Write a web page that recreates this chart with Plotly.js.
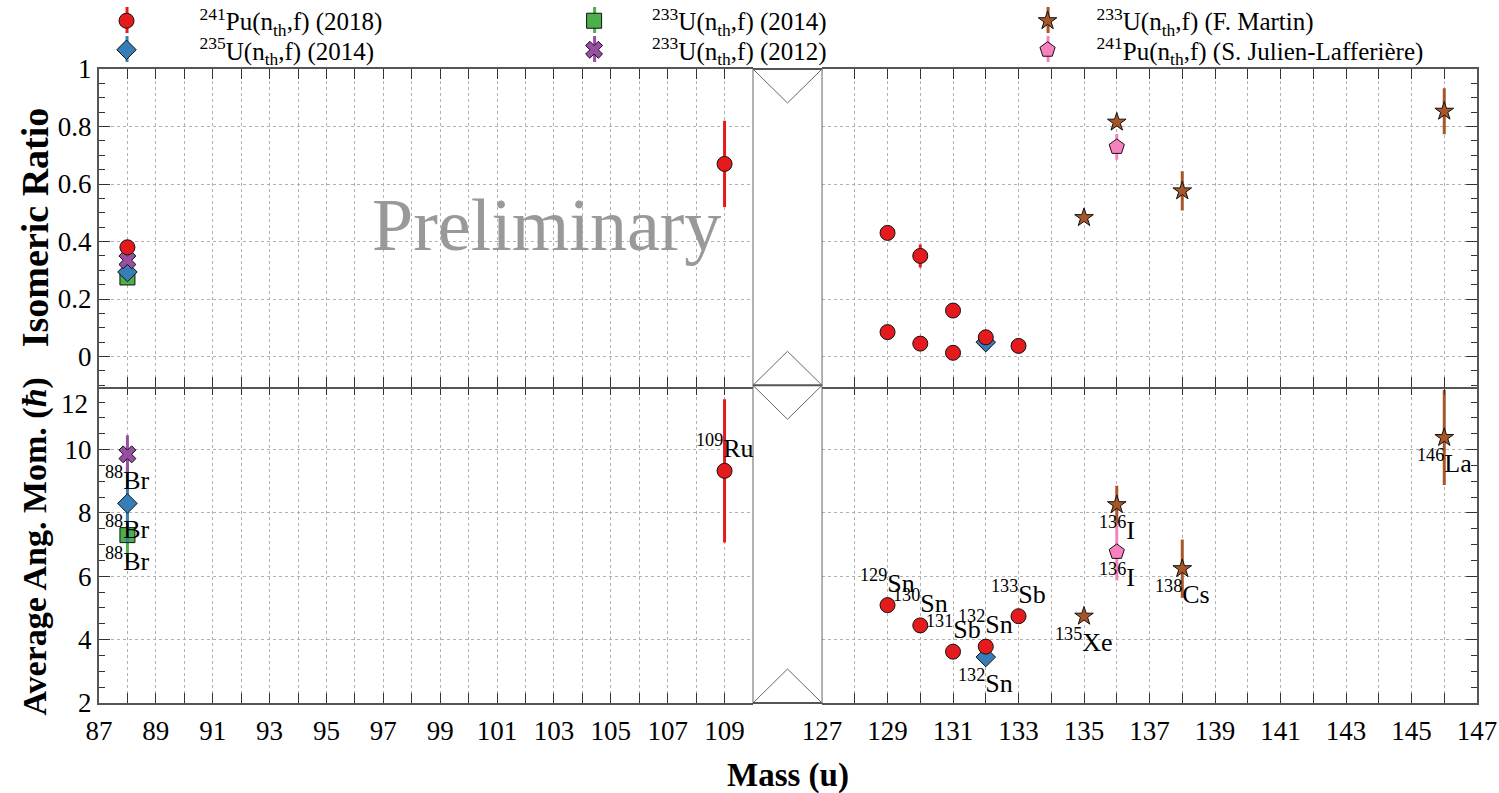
<!DOCTYPE html>
<html><head><meta charset="utf-8">
<script src="https://cdn.plot.ly/plotly-3.0.1.min.js"></script>
<style>html,body{margin:0;padding:0;background:#fff}#chart{width:1499px;height:793px}</style>
</head><body><div id="chart"></div>
<script>
// ---------------- DATA ----------------
const seriesNames = [
  '<sup>241</sup>Pu(n<sub>th</sub>,f) (2018)',
  '<sup>235</sup>U(n<sub>th</sub>,f) (2014)',
  '<sup>233</sup>U(n<sub>th</sub>,f) (2014)',
  '<sup>233</sup>U(n<sub>th</sub>,f) (2012)',
  '<sup>233</sup>U(n<sub>th</sub>,f) (F. Martin)',
  '<sup>241</sup>Pu(n<sub>th</sub>,f) (S. Julien-Lafferière)'
];

// Isomeric ratio (top panel)
const irMassPu241   = [88, 109, 129, 129, 130, 130, 131, 131, 132, 133];
const irValPu241    = [0.38, 0.67, 0.43, 0.085, 0.35, 0.045, 0.16, 0.013, 0.067, 0.037];
const irErrPu241    = [0.01, 0.15, 0.01, 0.01, 0.04, 0.01, 0.01, 0.01, 0.01, 0.01];
const irMassU235    = [88, 132];
const irValU235     = [0.294, 0.05];
const irErrU235     = [0.01, 0.01];
const irMassU233a   = [88];
const irValU233a    = [0.275];
const irErrU233a    = [0.01];
const irMassU233b   = [88];
const irValU233b    = [0.335];
const irErrU233b    = [0.01];
const irMassMartin  = [135, 136, 138, 146];
const irValMartin   = [0.483, 0.815, 0.576, 0.853];
const irErrMartin   = [0.005, 0.015, 0.068, 0.08];
const irMassJulien  = [136];
const irValJulien   = [0.729];
const irErrJulien   = [0.045];

// Average angular momentum (bottom panel)
const amMassPu241   = [109, 129, 130, 131, 132, 133];
const amValPu241    = [9.33, 5.09, 4.45, 3.62, 3.78, 4.74];
const amErrPu241    = [2.26, 0.1, 0.1, 0.1, 0.1, 0.1];
const amLblPu241    = ['<sup>109</sup>Ru', '<sup>129</sup>Sn', '<sup>130</sup>Sn', '<sup>131</sup>Sb', '<sup>132</sup>Sn', '<sup>133</sup>Sb'];
const amMassU235    = [88, 132];
const amValU235     = [8.3, 3.45];
const amErrU235     = [1.22, 0.1];
const amLblU235     = ['<sup>88</sup>Br', '<sup>132</sup>Sn'];
const amMassU233a   = [88];
const amValU233a    = [7.3];
const amErrU233a    = [0.85];
const amLblU233a    = ['<sup>88</sup>Br'];
const amMassU233b   = [88];
const amValU233b    = [9.85];
const amErrU233b    = [0.6];
const amLblU233b    = ['<sup>88</sup>Br'];
const amMassMartin  = [135, 136, 138, 146];
const amValMartin   = [4.74, 8.26, 6.24, 10.38];
const amErrMartin   = [0.05, 0.6, 0.92, 1.5];
const amLblMartin   = ['<sup>135</sup>Xe', '<sup>136</sup>I', '<sup>138</sup>Cs', '<sup>146</sup>La'];
const amMassJulien  = [136];
const amValJulien   = [6.77];
const amErrJulien   = [0.9];
const amLblJulien   = ['<sup>136</sup>I'];

const xTickLabelsLeft  = [87, 89, 91, 93, 95, 97, 99, 101, 103, 105, 107, 109];
const xTickLabelsRight = [127, 129, 131, 133, 135, 137, 139, 141, 143, 145, 147];

// ---------------- STYLE ----------------
const FONT = '"Liberation Serif", "Times New Roman", serif';
const W = 1499, H = 793, ML = 99, MR = 22, MT = 69, MB = 90;
const PW = W - ML - MR, PH = H - MT - MB;
const ROW1 = 1.112, ROW2 = 1.0662;
const series = [
  // drawing order: bottom to top
  {name: seriesNames[2], color:'#4daf4a', symbol:'square',   size:15, legend:'legend2', lx:0.3172, ly:ROW1, iw:106, ir:[irMassU233a, irValU233a, irErrU233a], am:[amMassU233a, amValU233a, amErrU233a, amLblU233a], lblShift:-24},
  {name: seriesNames[1], color:'#377eb8', symbol:'diamond',  size:15, legend:'legend4', lx:-0.0330, ly:ROW2, iw:136, ir:[irMassU235, irValU235, irErrU235],    am:[amMassU235, amValU235, amErrU235, amLblU235],     lblShift:-24},
  {name: seriesNames[3], color:'#984ea3', symbol:'x',        size:15, legend:'legend5', lx:0.3172, ly:ROW2, iw:106, ir:[irMassU233b, irValU233b, irErrU233b], am:[amMassU233b, amValU233b, amErrU233b, amLblU233b], lblShift:-24},
  {name: seriesNames[4], color:'#a65628', symbol:'star',     size:14, legend:'legend3', lx:0.6528, ly:ROW1, iw:88,  ir:[irMassMartin, irValMartin, irErrMartin], am:[amMassMartin, amValMartin, amErrMartin, amLblMartin], lblShift:-24},
  {name: seriesNames[5], color:'#f781bf', symbol:'pentagon', size:16, legend:'legend6', lx:0.6528, ly:ROW2, iw:88,  ir:[irMassJulien, irValJulien, irErrJulien], am:[amMassJulien, amValJulien, amErrJulien, amLblJulien], lblShift:-24},
  {name: seriesNames[0], color:'#e41a1c', symbol:'circle',   size:15, legend:'legend',  lx:-0.0330, ly:ROW1, iw:136, ir:[irMassPu241, irValPu241, irErrPu241], am:[amMassPu241, amValPu241, amErrPu241, amLblPu241], lblShift:24}
];

const LEFT = [87, 110], RIGHT = [127, 147];
const f1 = 0.4746, f2 = 0.5247, ym = 0.5011, ov = 2/PH;

const axesFor = {
  ir: [['x3','y'], ['x4','y3']],
  am: [['x','y2'], ['x2','y4']]
};

const traces = [];
const annotations = [];
const shapes = [];
const legends = {};
series.forEach(s => {
  let legendShown = false;
  legends[s.legend] = {orientation:'v', x:s.lx, y:s.ly, xanchor:'left', yanchor:'top', itemwidth:s.iw,
    font:{family:FONT, size:25, color:'#000'}, bgcolor:'rgba(0,0,0,0)', borderwidth:0};
  // error-bar stroke behind the legend symbol (as in the original legend)
  const lxc = s.lx + (s.iw/2 + 5.5)/PW, lyc = s.ly - 22/PH;
  shapes.push({type:'line', xref:'paper', yref:'paper', x0:lxc, x1:lxc, y0:lyc-13/PH, y1:lyc+13/PH,
    line:{color:s.color, width:3}});
  ['ir','am'].forEach(panel => {
    const [mass, vals, errs, lbls] = s[panel];
    [LEFT, RIGHT].forEach((rng, si) => {
      const idx = mass.map((m,i)=>i).filter(i => mass[i] >= rng[0] && mass[i] <= rng[1]);
      if (!idx.length) return;
      const [xa, ya] = axesFor[panel][si];
      traces.push({
        type:'scatter', mode:'markers',
        x: idx.map(i=>mass[i]), y: idx.map(i=>vals[i]),
        error_y: {type:'data', array: idx.map(i=>errs[i]), visible:true, color:s.color, thickness:3, width:0},
        marker: {symbol:s.symbol, size:s.size, color:s.color, line:{color:'#111', width:1}},
        name: s.name, legendgroup: s.name, legend: s.legend,
        showlegend: !legendShown,
        xaxis: xa, yaxis: ya, hoverinfo:'x+y'
      });
      legendShown = true;
      if (lbls) {
        idx.forEach(i => annotations.push({
          xref: xa, yref: ya, x: mass[i], y: vals[i], text: lbls[i],
          showarrow:false, yshift: s.lblShift, xanchor:'center', yanchor:'middle',
          font:{family:FONT, size:26, color:'#000'}
        }));
      }
    });
  });
});

// titles and watermark
annotations.push(
  {xref:'paper', yref:'paper', x:0.325, y:0.7545, xanchor:'center', yanchor:'middle', text:'Preliminary', showarrow:false,
   font:{family:FONT, size:74, color:'#999'}},
  {xref:'paper', yref:'paper', x:-0.0464, y:(ym+1)/2, xanchor:'center', yanchor:'middle', text:'<b>Isomeric Ratio</b>', textangle:-90, showarrow:false,
   font:{family:FONT, size:38, color:'#000'}},
  {xref:'paper', yref:'paper', x:-0.0464, y:0.247, xanchor:'center', yanchor:'middle', text:'<b>Average Ang. Mom. (<i>ħ</i>)</b>', textangle:-90, showarrow:false,
   font:{family:FONT, size:34, color:'#000'}},
  {xref:'paper', yref:'paper', x:0.5, y:-0.114, xanchor:'center', yanchor:'middle', text:'<b>Mass (u)</b>', showarrow:false,
   font:{family:FONT, size:33, color:'#000'}},
  {xref:'paper', yref:'y2', x:-0.0065, xanchor:'right', yanchor:'middle', y:11.43, text:'12', showarrow:false,
   font:{family:FONT, size:27, color:'#000'}}
);

// break marks
const LC = '#666';
const d = 34/PH, fm = (f1+f2)/2;
shapes.push(
  {type:'line', xref:'paper', yref:'paper', x0:f1, x1:f2, y0:1, y1:1, line:{color:'#555', width:2}},
  {type:'line', xref:'paper', yref:'paper', x0:f1, x1:f2, y0:ym, y1:ym, line:{color:'#555', width:2}},
  {type:'line', xref:'paper', yref:'paper', x0:f1, x1:f2, y0:0, y1:0, line:{color:'#555', width:2}},
  {type:'line', xref:'paper', yref:'paper', x0:f1, x1:f1, y0:0, y1:1, line:{color:LC, width:1}},
  {type:'line', xref:'paper', yref:'paper', x0:f2, x1:f2, y0:0, y1:1, line:{color:LC, width:1}},
  {type:'path', xref:'paper', yref:'paper', path:`M ${f1},1 L ${fm},${1-d} L ${f2},1`, line:{color:LC, width:1}},
  {type:'path', xref:'paper', yref:'paper', path:`M ${f1},${ym} L ${fm},${ym+d} L ${f2},${ym} L ${fm},${ym-d} Z`, line:{color:LC, width:1}},
  {type:'path', xref:'paper', yref:'paper', path:`M ${f1},0 L ${fm},${d} L ${f2},0`, line:{color:LC, width:1}}
);

const tickFont = {family:FONT, size:27, color:'#000'};
const gridCol = '#b0b0b0';
function xAxis(extra){
  return Object.assign({
    dtick:2, ticks:'inside', ticklen:10, tickwidth:1, tickcolor:'#333',
    showgrid:true, gridcolor:gridCol, griddash:'dot', gridwidth:1,
    minor:{dtick:1, ticks:'inside', ticklen:10, tickwidth:1, tickcolor:'#333', showgrid:true, gridcolor:gridCol, griddash:'dot', gridwidth:1},
    zeroline:false, showline:true, linecolor:'#555', linewidth:2, mirror:'ticks',
    tickfont:tickFont, ticklabelstandoff:3, fixedrange:true
  }, extra);
}
function yAxis(extra){
  return Object.assign({
    ticks:'inside', ticklen:11, tickwidth:1, tickcolor:'#333',
    showgrid:true, gridcolor:gridCol, griddash:'dot', gridwidth:1,
    zeroline:false, showline:true, linecolor:'#555', linewidth:2, mirror:false,
    tickfont:tickFont, fixedrange:true
  }, extra);
}

const layout = Object.assign({
  width:W, height:H, autosize:false,
  margin:{l:ML, r:MR, t:MT, b:MB, pad:0, autoexpand:false},
  paper_bgcolor:'#fff', plot_bgcolor:'#fff',
  font:{family:FONT, color:'#000'},
  showlegend:true,
  xaxis: xAxis({domain:[0,f1], range:LEFT, tick0:xTickLabelsLeft[0], anchor:'y2'}),
  xaxis2: xAxis({domain:[f2,1], range:RIGHT, tick0:xTickLabelsRight[0], anchor:'y4'}),
  xaxis3: xAxis({domain:[0,f1], range:LEFT, tick0:xTickLabelsLeft[0], anchor:'y', matches:'x', showticklabels:false}),
  xaxis4: xAxis({domain:[f2,1], range:RIGHT, tick0:xTickLabelsRight[0], anchor:'y3', matches:'x2', showticklabels:false}),
  yaxis: yAxis({domain:[ym-ov,1], range:[-0.1-ov*1.1/(1-ym), 1.0], dtick:0.2, tick0:0, anchor:'x3', side:'left',
                minor:{dtick:0.05, ticks:'inside', ticklen:6, tickcolor:'#333', showgrid:false}}),
  yaxis3: yAxis({domain:[ym-ov,1], dtick:0.2, tick0:0, anchor:'x4', side:'right', matches:'y', showticklabels:false,
                minor:{dtick:0.05, ticks:'inside', ticklen:6, tickcolor:'#333', showgrid:false}}),
  yaxis2: yAxis({domain:[0,ym], range:[2,12.03], dtick:2, tick0:2, anchor:'x', side:'left', labelalias:{'12':''},
                minor:{dtick:0.5, ticks:'inside', ticklen:6, tickcolor:'#333', showgrid:false}}),
  yaxis4: yAxis({domain:[0,ym], dtick:2, tick0:2, anchor:'x2', side:'right', matches:'y2', showticklabels:false,
                minor:{dtick:0.5, ticks:'inside', ticklen:6, tickcolor:'#333', showgrid:false}}),
  annotations: annotations,
  shapes: shapes
}, legends);

Plotly.newPlot('chart', traces, layout, {displayModeBar:false, staticPlot:true});
</script></body></html>
